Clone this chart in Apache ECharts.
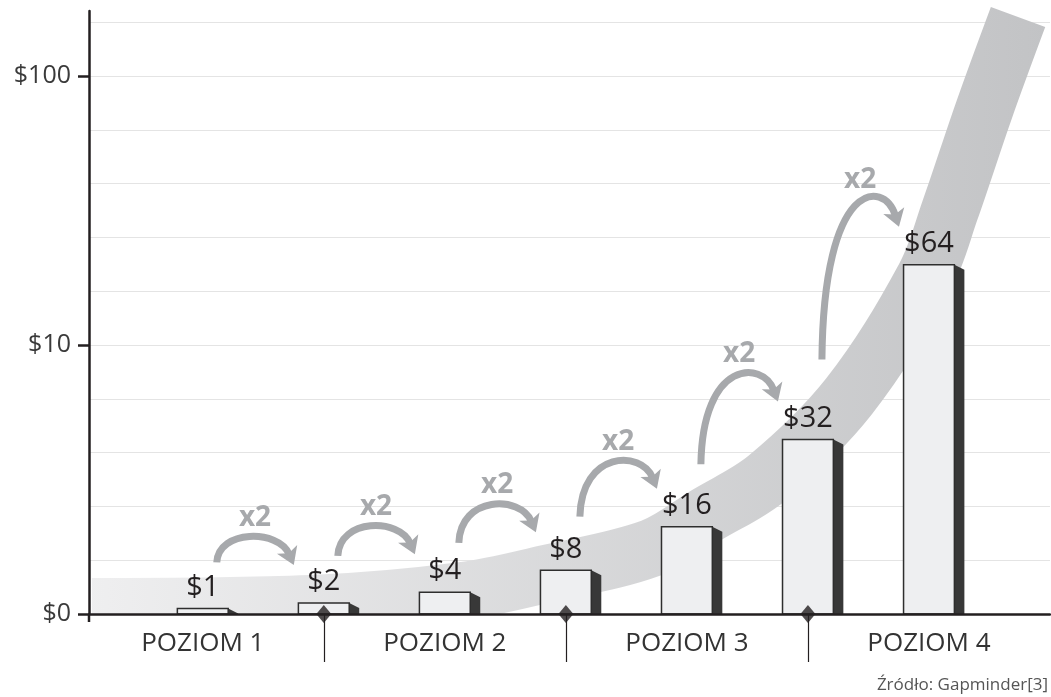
<!DOCTYPE html>
<html>
<head>
<meta charset="utf-8">
<title>Poziomy dochodu</title>
<script src="https://cdn.jsdelivr.net/npm/echarts@6/dist/echarts.min.js"></script>
<style>
  html, body { margin: 0; padding: 0; background: #fff; }
  #chart { width: 1051px; height: 697px; }
</style>
</head>
<body>
<div id="chart"></div>
<script>
// dane
const levels = ['POZIOM 1', 'POZIOM 2', 'POZIOM 3', 'POZIOM 4']
const levelCenters = [0.5, 1.5, 2.5, 3.5]
const levelBounds = [1, 2, 3]
const barPos = [0.5, 1, 1.5, 2, 2.5, 3, 3.5]
const barValues = [1, 2, 4, 8, 16, 32, 64]
const decadeTicks = [0, 1, 2]
const decadeLabels = ['$0', '$10', '$100']
// szary pas w tle (srodek pasa)
const bandX = [0.042, 0.946, 1.573, 1.916, 2.353, 2.58, 2.831, 3.17, 3.484, 3.587, 3.728, 3.868]
const bandY = [1.28, 1.83, 4.21, 7.33, 12.1, 18.1, 24.9, 39.9, 61.8, 74.0, 92.4, 109.4]
const sourceText = 'Źródło: Gapminder[3]'

const FONT = '"Open Sans", "Noto Sans", sans-serif'
const ARROW = '#a7a9ac'

let chartInstance = echarts.init(document.getElementById('chart'))

function renderBar(params, api) {
  const x = api.value(0)
  const v = api.value(1)
  const tl = api.coord([x - 0.105, v])
  const br = api.coord([x + 0.105, 0])
  return {
    type: 'group',
    children: [
      {
        type: 'polygon',
        shape: { points: [[br[0], tl[1]], [br[0] + 10, tl[1] + 5], [br[0] + 10, br[1]], [br[0], br[1]]] },
        style: { fill: '#383838' }
      },
      {
        type: 'rect',
        shape: { x: tl[0], y: tl[1], width: br[0] - tl[0], height: br[1] - tl[1] },
        style: { fill: '#eeeff1', stroke: '#2e2e2e', lineWidth: 1.5 }
      },
      {
        type: 'text',
        x: (tl[0] + br[0]) / 2,
        y: tl[1] - 21,
        style: { text: '$' + v, font: '29px ' + FONT, fill: '#231f20', align: 'center', verticalAlign: 'middle' }
      }
    ]
  }
}

function renderArrow(params, api) {
  const a = api.coord([api.value(0), api.value(1)])
  const b = api.coord([api.value(2), api.value(3)])
  const rise = a[1] - b[1]
  const s = [a[0] + 14, a[1] - 45 - 0.2 * rise]
  const tip = [b[0] - 30, b[1] - 38]
  const peak = tip[1] - 26
  const W = tip[0] - s[0]
  const hl = 17, hw = 11
  // kierunek grotu liczony od drugiego punktu kontrolnego
  let yc = (peak - 0.064 * s[1] - 0.216 * tip[1]) / 0.72
  const c1 = [s[0] + 0.02 * W, yc]
  const c2 = [s[0] + 0.8 * W, yc]
  let dx = tip[0] - c2[0]
  let dy = tip[1] - c2[1]
  const len = Math.hypot(dx, dy)
  dx /= len
  dy /= len
  const end = [tip[0] - dx * hl * 0.7, tip[1] - dy * hl * 0.7]
  const base = [tip[0] - dx * hl, tip[1] - dy * hl]
  const notch = [tip[0] - dx * hl * 0.75, tip[1] - dy * hl * 0.75]
  const ratio = api.value(3) / api.value(1)
  return {
    type: 'group',
    children: [
      {
        type: 'bezierCurve',
        shape: { x1: s[0], y1: s[1], cpx1: c1[0], cpy1: c1[1], cpx2: c2[0], cpy2: c2[1], x2: end[0], y2: end[1] },
        style: { stroke: ARROW, lineWidth: 7, fill: null }
      },
      {
        type: 'polygon',
        shape: {
          points: [
            tip,
            [base[0] - dy * hw, base[1] + dx * hw],
            notch,
            [base[0] + dy * hw, base[1] - dx * hw]
          ]
        },
        style: { fill: ARROW }
      },
      {
        type: 'text',
        x: s[0] + 0.6 * W - 8,
        y: peak - 21,
        style: { text: 'x' + ratio, font: 'bold 28px ' + FONT, fill: ARROW, align: 'center', verticalAlign: 'middle' }
      }
    ]
  }
}

const option = {
  backgroundColor: '#ffffff',
  animation: false,
  grid: { left: 89, right: 1, top: 11, bottom: 83, outerBoundsMode: 'none', containLabel: false },
  xAxis: {
    type: 'value',
    min: 0.03,
    max: 4,
    z: 3,
    splitLine: { show: false },
    axisLine: { show: true, lineStyle: { color: '#231f20', width: 2.5 } },
    axisTick: { show: true, customValues: levelBounds, length: 48, lineStyle: { color: '#231f20', width: 1.2 } },
    axisLabel: {
      customValues: levelCenters,
      margin: 17,
      fontFamily: FONT,
      fontSize: 26,
      color: '#333333',
      formatter: v => levels[Math.floor(v)]
    }
  },
  yAxis: [
    {
      type: 'value',
      position: 'left',
      min: 0,
      max: 110.5,
      show: false
    },
    {
      type: 'value',
      position: 'left',
      min: 0,
      max: 2.2416,
      interval: 0.2,
      axisLine: { show: false },
      axisTick: { show: false },
      axisLabel: { show: false },
      splitLine: { show: true, showMinLine: false, showMaxLine: false, lineStyle: { color: '#e4e4e4', width: 1.2 } }
    },
    {
      type: 'value',
      position: 'left',
      min: 0,
      max: 2.2416,
      z: 5,
      splitLine: { show: false },
      axisLine: { show: true, lineStyle: { color: '#231f20', width: 2.5 } },
      axisTick: { show: true, customValues: decadeTicks, length: 11, lineStyle: { color: '#231f20', width: 2.5 } },
      axisLabel: {
        customValues: decadeTicks,
        margin: 18,
        fontFamily: FONT,
        fontSize: 25,
        color: '#3a3a3a',
        formatter: v => decadeLabels[decadeTicks.indexOf(Math.round(v))]
      }
    }
  ],
  graphic: [
    {
      // zakrywa dolna czesc pasa pod osia
      type: 'rect',
      left: 90,
      top: 615,
      z: 2,
      silent: true,
      shape: { width: 961, height: 50 },
      style: { fill: '#ffffff' }
    },
    {
      // przedluzenie osi Y pod os X
      type: 'line',
      z: 5,
      silent: true,
      shape: { x1: 89, y1: 614, x2: 89, y2: 622 },
      style: { stroke: '#231f20', lineWidth: 2.5 }
    },
    {
      type: 'text',
      right: 3,
      bottom: 3,
      z: 5,
      style: { text: sourceText, font: '17px ' + FONT, fill: '#555555' }
    }
  ],
  series: [
    {
      name: 'pas',
      type: 'line',
      z: 1,
      silent: true,
      smooth: 0.35,
      symbol: 'none',
      data: bandX.map((x, i) => [x, bandY[i]]),
      lineStyle: {
        width: 58,
        cap: 'butt',
        color: new echarts.graphic.LinearGradient(0, 0, 1, 0, [
          { offset: 0, color: '#f0f0f1' },
          { offset: 1, color: '#c2c3c5' }
        ])
      }
    },
    {
      name: 'dochod',
      type: 'custom',
      z: 2,
      silent: true,
      renderItem: renderBar,
      data: barPos.map((x, i) => [x, barValues[i]])
    },
    {
      name: 'strzalki',
      type: 'custom',
      z: 3,
      silent: true,
      clip: false,
      renderItem: renderArrow,
      data: barPos.slice(0, -1).map((x, i) => [x, barValues[i], barPos[i + 1], barValues[i + 1]])
    },
    {
      name: 'granice',
      type: 'scatter',
      z: 4,
      silent: true,
      symbol: 'diamond',
      symbolSize: [15, 18],
      itemStyle: { color: '#231f20' },
      data: levelBounds.map(x => [x, 0])
    }
  ]
}
chartInstance.setOption(option)
window.onresize = function () {
  chartInstance.resize()
}
</script>
</body>
</html>
